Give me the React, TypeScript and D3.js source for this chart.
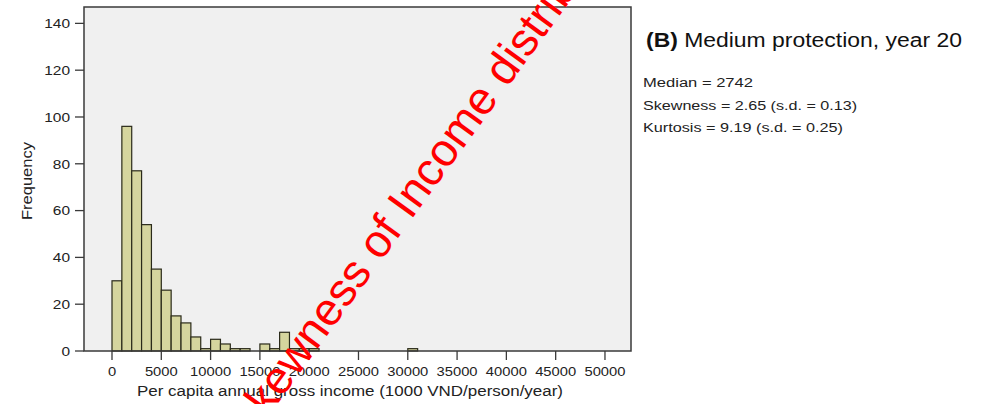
import React from "react";
import * as d3 from "d3";

// Histogram bins (start of each 1000-wide bin) and their frequencies
const binStarts = [0, 1000, 2000, 3000, 4000, 5000, 6000, 7000, 8000, 9000, 10000, 11000, 12000, 13000, 15000, 16000, 17000, 18000, 19000, 20000, 30000];
const counts = [30, 96, 77, 54, 35, 26, 15, 12, 6, 1, 5, 3, 1, 1, 3, 1, 8, 1, 1, 1, 1];
const binWidth = 1000;

const yTicks = [0, 20, 40, 60, 80, 100, 120, 140];
const xTicks = [0, 5000, 10000, 15000, 20000, 25000, 30000, 35000, 40000, 45000, 50000];

const titleBold = "(B)";
const titleRest = " Medium protection, year 20";
const statLines = ["Median = 2742", "Skewness = 2.65 (s.d. = 0.13)", "Kurtosis = 9.19 (s.d. = 0.25)"];
const statWidths = [110, 214, 200];
const xLabel = "Per capita annual gross income (1000 VND/person/year)";
const yLabel = "Frequency";
const watermark = "Skewness of Income distribution";

const W = 984;
const H = 404;
const plot = { left: 84, right: 631, top: 7, bottom: 351 };

const FONT = "'Liberation Sans', Arial, Helvetica, sans-serif";

export default function App() {
  const x = d3.scaleLinear().domain([-2840, 52640]).range([plot.left, plot.right]);
  const y = d3.scaleLinear().domain([0, 147]).range([plot.bottom, plot.top]);

  return (
    <svg
      width={W}
      height={H}
      style={{ position: "absolute", left: 0, top: 0, background: "#ffffff" }}
      fontFamily={FONT}
    >
      <rect x={0} y={0} width={W} height={H} fill="#ffffff" />
      {/* plot area */}
      <rect
        x={plot.left}
        y={plot.top}
        width={plot.right - plot.left}
        height={plot.bottom - plot.top}
        fill="#f0f0f0"
      />
      {/* bars */}
      {binStarts.map((s, i) => (
        <rect
          key={i}
          x={x(s)}
          y={y(counts[i])}
          width={x(s + binWidth) - x(s)}
          height={y(0) - y(counts[i])}
          fill="#d5d59e"
          stroke="#2a2a1a"
          strokeWidth={1.2}
        />
      ))}
      {/* frame */}
      <rect
        x={plot.left}
        y={plot.top}
        width={plot.right - plot.left}
        height={plot.bottom - plot.top}
        fill="none"
        stroke="#3a3a3a"
        strokeWidth={1.5}
      />
      {/* y axis ticks */}
      {yTicks.map((t) => (
        <g key={t}>
          <line x1={75} x2={plot.left} y1={y(t)} y2={y(t)} stroke="#3a3a3a" strokeWidth={1.3} />
          <text
            x={70}
            y={y(t) + 4.8}
            fontSize={13.5}
            textAnchor="end"
            fill="#222"
            textLength={String(t).length * 8.6}
            lengthAdjust="spacingAndGlyphs"
          >
            {t}
          </text>
        </g>
      ))}
      {/* x axis ticks */}
      {xTicks.map((t) => (
        <g key={t}>
          <line x1={x(t)} x2={x(t)} y1={plot.bottom} y2={plot.bottom + 9} stroke="#3a3a3a" strokeWidth={1.3} />
          <text
            x={x(t)}
            y={376}
            fontSize={13}
            textAnchor="middle"
            fill="#222"
            textLength={String(t).length * 8.2}
            lengthAdjust="spacingAndGlyphs"
          >
            {t}
          </text>
        </g>
      ))}
      {/* axis labels */}
      <text
        x={137}
        y={396}
        fontSize={14}
        fill="#222"
        textLength={426}
        lengthAdjust="spacingAndGlyphs"
      >
        {xLabel}
      </text>
      <text
        transform="translate(32,181) rotate(-90)"
        fontSize={14}
        textAnchor="middle"
        fill="#222"
        textLength={78}
        lengthAdjust="spacingAndGlyphs"
      >
        {yLabel}
      </text>
      {/* title and stats */}
      <text x={646} y={47} fontSize={20} fill="#111" textLength={316} lengthAdjust="spacingAndGlyphs">
        <tspan fontWeight="bold">{titleBold}</tspan>
        <tspan>{titleRest}</tspan>
      </text>
      {statLines.map((s, i) => (
        <text
          key={i}
          x={643}
          y={87 + i * 22.5}
          fontSize={12}
          fill="#222"
          textLength={statWidths[i]}
          lengthAdjust="spacingAndGlyphs"
        >
          {s}
        </text>
      ))}
      {/* watermark */}
      <text
        transform="translate(250,442) rotate(-54)"
        fontSize={46}
        fill="#ff0000"
        fontFamily={FONT}
      >
        {watermark}
      </text>
    </svg>
  );
}
